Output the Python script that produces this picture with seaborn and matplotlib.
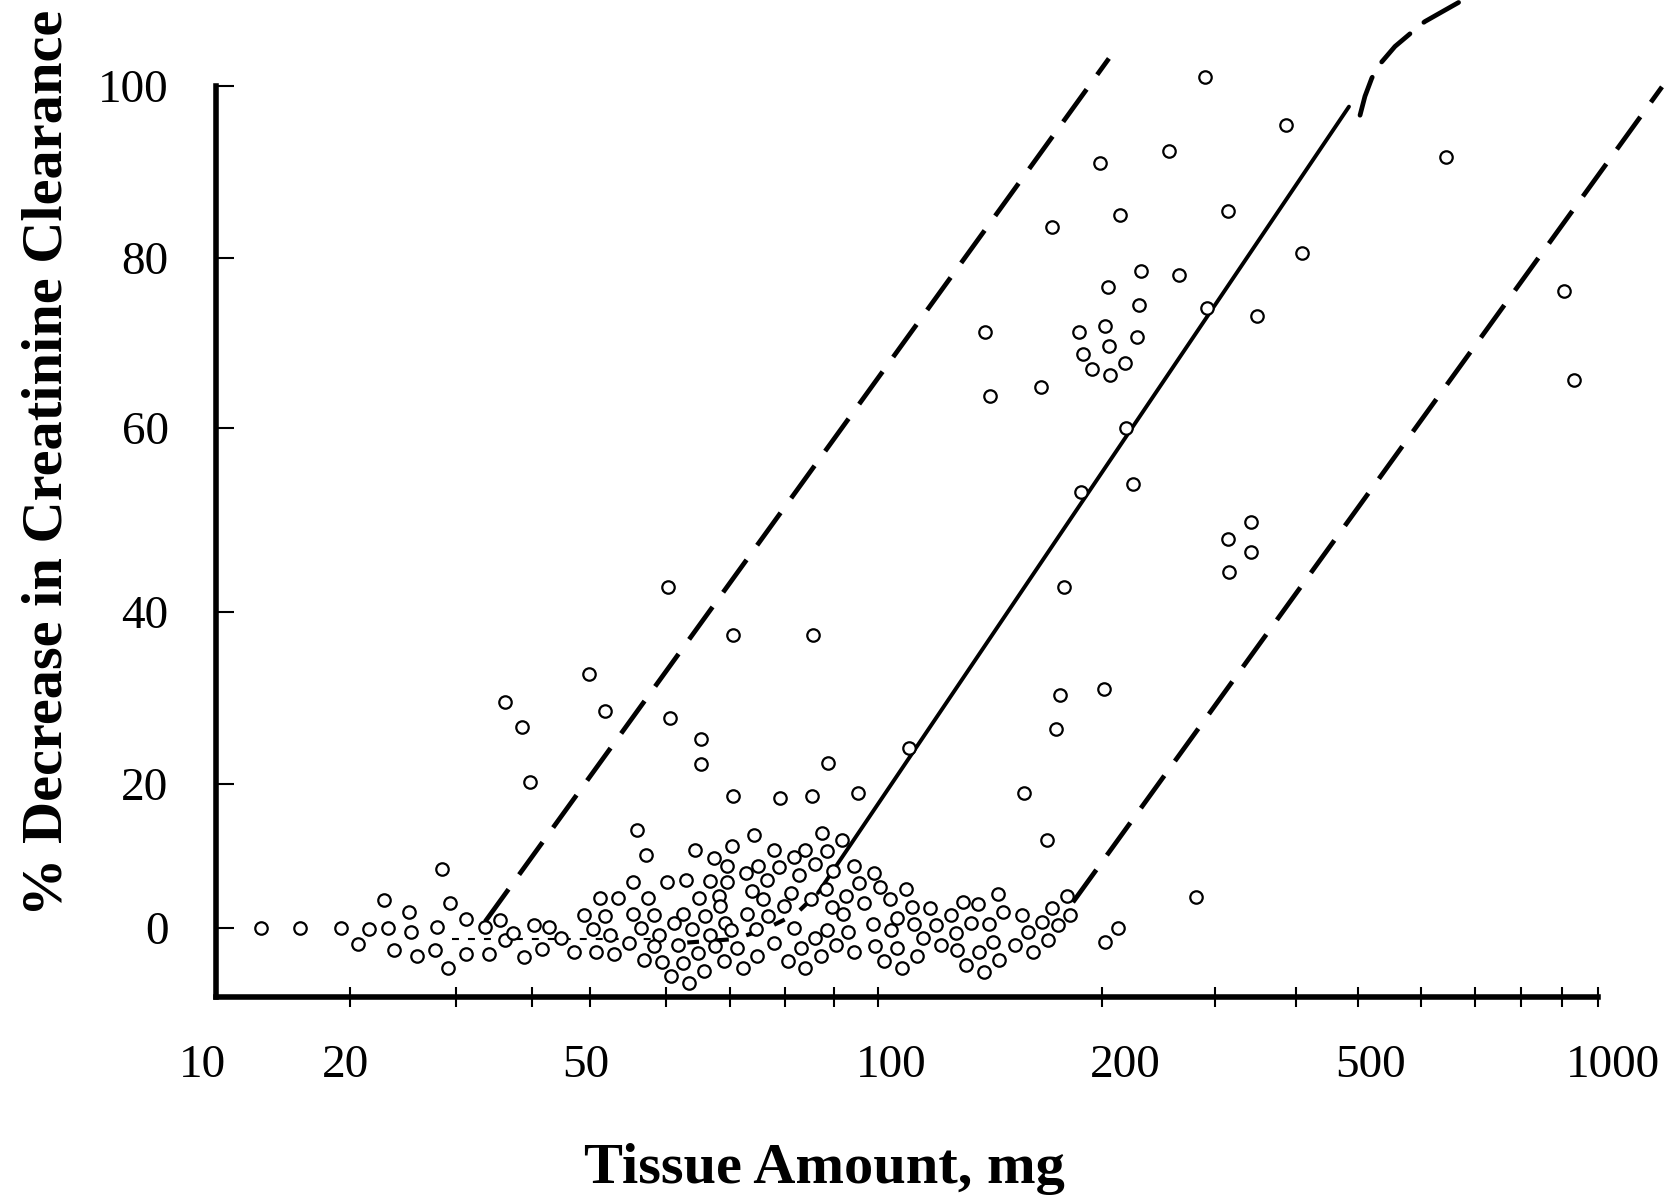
import numpy as np
import matplotlib
matplotlib.use("Agg")
import matplotlib.pyplot as plt
from matplotlib.ticker import FixedLocator, NullFormatter, NullLocator
from matplotlib.transforms import ScaledTranslation
import seaborn as sns

# ---------------- data ----------------
# dense cluster, left part (x in mg, y in %)
left_x = [12.6, 15.4, 19.1, 20.6, 21.5, 22.8, 23.1, 23.7, 25.1, 25.2, 25.8, 27.7, 27.9, 28.4,
          29.1, 29.3, 31.1, 31.2, 33.5, 34.0, 35.5, 36.1, 37.3, 38.9, 40.4, 41.7, 42.7, 44.8]
left_y = [0.0, 0.0, 0.0, -2.2, -0.1, 3.9, 0.0, -3.0, 2.2, -0.6, -3.9, -3.0, 0.2, 8.2,
          -5.5, 3.5, 1.3, -3.6, 0.1, -3.6, 1.2, -1.7, -0.7, -4.0, 0.4, -2.9, 0.1, -1.3]

# dense cluster, middle part
mid_x = [70.5, 79.0, 85.4, 95.4, 56.0, 57.2, 74.3, 87.4, 91.8, 64.4, 67.4, 70.4, 69.5, 77.8,
         78.8, 81.8, 84.0, 86.0, 88.5, 89.7, 94.4, 99.0, 55.5, 60.2, 63.0, 66.8, 69.5, 72.8,
         75.0, 76.5, 73.8, 75.8, 81.1, 82.8, 88.3, 95.6, 100.6, 109.0, 51.2, 53.5, 57.5, 65.0,
         68.2, 68.4, 79.7, 85.2, 89.5, 92.7, 96.8, 104.0, 111.1, 117.5, 48.9, 51.9, 55.4, 58.3,
         61.2, 62.6, 65.9, 69.2, 73.0, 76.8, 92.0, 98.8, 106.0, 112.0, 119.7, 125.3, 50.4, 52.5,
         56.5, 59.1, 64.0, 66.8, 70.2, 74.6, 81.8, 86.0, 88.5, 93.2, 104.2, 115.1, 127.4, 47.0,
         50.7, 53.0, 54.9, 58.4, 61.8, 64.9, 67.6, 71.2, 77.9, 83.1, 87.3, 90.4, 94.5, 99.4,
         106.0, 112.8, 121.7, 127.7, 57.0, 59.5, 62.6, 69.0, 74.7, 80.6, 102.0, 60.8, 63.5, 65.8,
         72.2, 84.0, 107.9]
mid_y = [18.3, 18.1, 18.3, 18.8, 13.6, 10.2, 13.0, 13.2, 12.2, 10.9, 9.8, 11.4, 8.6, 10.9,
         8.5, 9.9, 10.9, 8.9, 10.7, 8.0, 8.7, 7.7, 6.4, 6.4, 6.7, 6.5, 6.4, 7.7,
         8.7, 6.7, 5.2, 4.1, 4.9, 7.4, 5.5, 6.3, 5.7, 5.4, 4.2, 4.2, 4.2, 4.2,
         4.4, 3.1, 3.1, 4.1, 3.0, 4.4, 3.5, 4.1, 3.0, 2.8, 1.8, 1.7, 1.9, 1.8,
         0.7, 1.9, 1.7, 0.7, 1.9, 1.7, 1.9, 0.6, 1.4, 0.6, 0.4, 1.8, -0.1, -1.0,
         0.0, -1.0, -0.1, -1.0, -0.3, -0.1, 0.0, -1.3, -0.3, -0.5, -0.3, -1.4, -0.7, -3.3,
         -3.3, -3.6, -2.1, -2.5, -2.4, -3.4, -2.5, -2.7, -2.0, -2.7, -3.8, -2.3, -3.3, -2.5,
         -2.7, -3.8, -2.3, -3.1, -4.4, -4.7, -4.9, -4.6, -3.8, -4.5, -4.5, -6.7, -7.6, -5.9,
         -5.5, -5.5, -5.5]

# dense cluster, right part
right_x = [157.0, 168.7, 279.8, 145.2, 136.2, 130.0, 147.4, 156.2, 179.5, 171.6, 166.3, 181.4,
           174.6, 133.3, 140.9, 159.0, 169.1, 142.9, 152.7, 161.5, 136.8, 145.5, 131.4, 138.9,
           202.4, 212.0]
right_y = [18.8, 12.2, 4.3, 4.7, 3.4, 3.6, 2.2, 1.8, 4.5, 2.8, 0.8, 1.8,
           0.4, 0.7, 0.6, -0.6, -1.6, -1.9, -2.4, -3.3, -3.3, -4.4, -5.1, -6.1,
           -1.9, 0.0]

# scattered upper points
upper_x = [36.2, 38.6, 39.8, 49.9, 51.9, 60.4, 60.6, 65.3, 65.3, 70.5, 85.5, 88.8, 110.0,
           139.4, 141.3, 165.5, 171.6, 173.3, 175.6, 178.0, 186.3, 187.5, 188.8, 193.9, 199.0,
           201.1, 201.9, 204.3, 205.1, 205.8, 213.0, 217.1, 217.9, 223.8, 226.4, 228.2, 229.9,
           253.8, 263.6, 288.9, 291.0, 314.2, 314.2, 315.4, 340.4, 340.4, 348.4, 386.2, 408.9,
           644.0, 906.5, 932.0]
upper_y = [29.5, 26.6, 20.2, 32.8, 28.5, 42.7, 27.7, 25.2, 22.3, 37.3, 37.3, 22.4, 24.2,
           71.3, 63.8, 64.8, 83.6, 26.4, 30.4, 42.7, 71.3, 53.1, 68.7, 67.0, 91.0,
           31.1, 72.0, 76.6, 69.7, 66.2, 85.0, 67.7, 60.0, 53.9, 70.7, 74.5, 78.5,
           92.4, 78.0, 101.1, 74.1, 85.5, 47.9, 44.4, 49.8, 46.5, 73.2, 95.5, 80.6,
           91.8, 76.1, 65.6]

# fitted curve pieces and bands
fit_flat_x = [29.5, 60.0]
fit_flat_y = [-1.5, -1.5]
fit_bend_x = [63.2, 71.0, 76.6, 82.0, 86.6]
fit_bend_y = [-2.0, -1.5, 0.0, 1.9, 4.9]
fit_line_x = [86.6, 483.6]
fit_line_y = [4.9, 97.6]
fit_top_x = [502.5, 509.7, 519.8, 526.2, 535.0, 555.9, 579.3, 592.3, 606.2, 636.1, 667.6, 752.7]
fit_top_y = [96.6, 98.8, 100.9, 101.9, 102.8, 104.6, 106.0, 106.8, 107.5, 108.6, 109.7, 112.0]
band_upper_x = [33.5, 205.0]
band_upper_y = [0.9, 103.2]
band_lower_x = [182.8, 1202.0]
band_lower_y = [3.6, 99.9]

x_ticks = [10, 20, 50, 100, 200, 500, 1000]
x_tick_labels = ["10", "20", "50", "100", "200", "500", "1000"]
x_minor = [30, 40, 60, 70, 80, 90, 300, 400, 600, 700, 800, 900]
y_ticks = [0, 20, 40, 60, 80, 100]

# ---------------- axis calibration (hand-drawn axis of the original) ----------------
LOG_KNOTS = np.log10(np.array(x_ticks, float))
X_POS = np.array([0, 133.5, 373.5, 661.2, 885.5, 1141.8, 1381.8])
Y_KNOTS = np.array(y_ticks, float)
Y_POS = np.array([0, 144, 316, 500, 670, 842], float)


def piecewise(v, src, dst):
    v = np.asarray(v, float)
    out = np.interp(v, src, dst)
    s0 = (dst[1] - dst[0]) / (src[1] - src[0])
    s1 = (dst[-1] - dst[-2]) / (src[-1] - src[-2])
    out = np.where(v < src[0], dst[0] + (v - src[0]) * s0, out)
    out = np.where(v > src[-1], dst[-1] + (v - src[-1]) * s1, out)
    return out


def x_fwd(x):
    return piecewise(np.log10(np.clip(np.asarray(x, float), 1e-9, None)), LOG_KNOTS, X_POS)


def x_inv(p):
    return 10 ** piecewise(p, X_POS, LOG_KNOTS)


def y_fwd(y):
    return piecewise(y, Y_KNOTS, Y_POS)


def y_inv(p):
    return piecewise(p, Y_POS, Y_KNOTS)


# ---------------- plotting ----------------
sns.set_theme(style="white")
plt.rcParams["font.family"] = ["Liberation Serif", "DejaVu Serif"]
plt.rcParams["lines.scale_dashes"] = False
plt.rcParams["text.color"] = "black"
plt.rcParams["axes.labelcolor"] = "black"
plt.rcParams["xtick.color"] = "black"
plt.rcParams["ytick.color"] = "black"

W, H = 1672, 1199
fig = plt.figure(figsize=(W / 100, H / 100), dpi=100)
ax = fig.add_axes([216.5 / W, 1 - 997.3 / H, (1598.3 - 216.5) / W, (997.3 - 86) / H])
ax.set_xscale("function", functions=(x_fwd, x_inv))
ax.set_yscale("function", functions=(y_fwd, y_inv))

long_dash = (0, (28.8, 13.0))
line_kw = dict(color="black", estimator=None, sort=False, legend=False, clip_on=False, ax=ax)

sns.lineplot(x=fit_flat_x, y=fit_flat_y, lw=1.5, linestyle=(0, (5.0, 6.5)), **line_kw)
sns.lineplot(x=fit_bend_x, y=fit_bend_y, lw=3.0, linestyle=(0, (8.5, 13.0)), **line_kw)
sns.lineplot(x=fit_line_x, y=fit_line_y, lw=2.8, **line_kw)
sns.lineplot(x=fit_top_x, y=fit_top_y, lw=3.4, linestyle=long_dash,
             solid_capstyle="round", dash_capstyle="round", **line_kw)
sns.lineplot(x=band_upper_x, y=band_upper_y, lw=3.4, linestyle=long_dash, **line_kw)
sns.lineplot(x=band_lower_x, y=band_lower_y, lw=3.4, linestyle=long_dash, **line_kw)

all_x = left_x + mid_x + right_x + upper_x
all_y = left_y + mid_y + right_y + upper_y
sns.scatterplot(x=all_x, y=all_y, ax=ax, s=80, marker="o", color="white",
                edgecolor="black", linewidth=1.6, zorder=4, clip_on=False, legend=False)

ax.set_xlim(10, 1000)
ax.set_ylim(-9.6, 100)
ax.set_xlabel("")
ax.set_ylabel("")
ax.grid(False)
ax.set_facecolor("white")

for side in ["top", "right"]:
    ax.spines[side].set_visible(False)
for side in ["left", "bottom"]:
    ax.spines[side].set_linewidth(4.0)
    ax.spines[side].set_color("black")

ax.xaxis.set_major_locator(FixedLocator(x_ticks))
ax.set_xticklabels(x_tick_labels)
ax.xaxis.set_minor_locator(FixedLocator(x_minor))
ax.xaxis.set_minor_formatter(NullFormatter())
ax.yaxis.set_major_locator(FixedLocator(y_ticks))
ax.set_yticklabels([str(v) for v in y_ticks])
ax.yaxis.set_minor_locator(NullLocator())

ax.tick_params(axis="x", which="both", direction="inout", length=14.4, width=1.5,
               color="black", pad=27, labelsize=34, labelcolor="black", bottom=True)
ax.tick_params(axis="y", which="major", direction="in", length=13, width=1.5,
               color="black", pad=34.5, labelsize=34, labelcolor="black", left=True)

# the tick at 10 coincides with the y-axis
ax.xaxis.get_major_ticks()[0].tick1line.set_visible(False)

# tick labels sit slightly off their ticks in the original
label_shift_px = [-14, -4, -4, 13, 23, 12, 15]
for lbl, dx in zip(ax.get_xticklabels(), label_shift_px):
    lbl.set_transform(lbl.get_transform() + ScaledTranslation(dx / 100, 0, fig.dpi_scale_trans))

fig.text(61.7 / W, 1 - 463 / H, "% Decrease in Creatinine Clearance", rotation=90,
         rotation_mode="anchor", ha="center", va="baseline", fontsize=42, fontweight="bold",
         color="black")
fig.text(824 / W, 1 - 1183 / H, "Tissue Amount, mg", ha="center", va="baseline",
         fontsize=42, fontweight="bold", color="black")

fig.savefig("out.png", dpi=100, facecolor="white")
